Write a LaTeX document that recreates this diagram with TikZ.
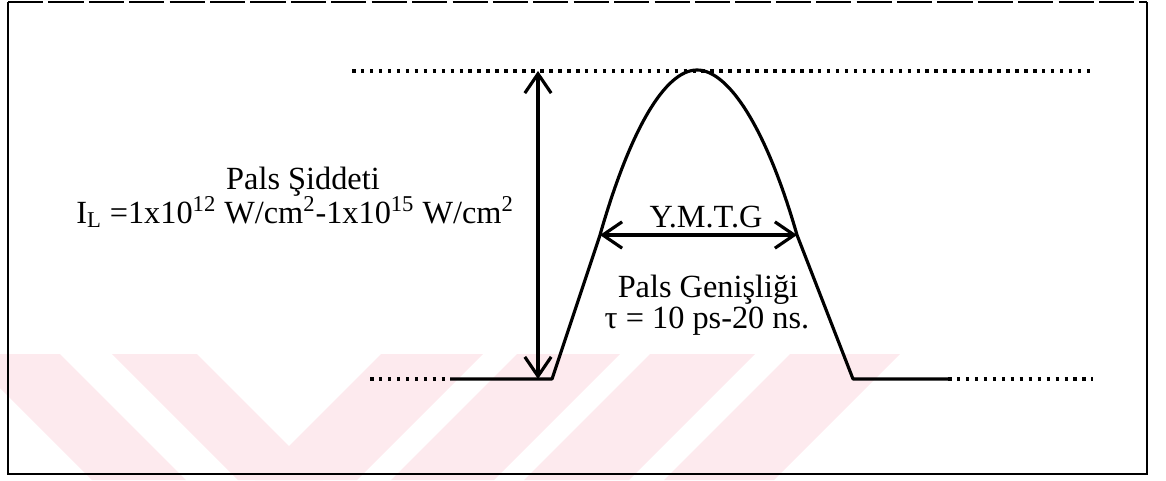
\documentclass[tikz,border=0pt]{standalone}
\usepackage{fontspec}
\setmainfont{Liberation Serif}
\usetikzlibrary{arrows.meta}

\begin{document}
\begin{tikzpicture}[x=0.02cm, y=-0.02cm,
        pulse/.style={line width=1.8pt, line join=round},
        dots/.style={line width=2pt, dash pattern=on 2pt off 3.1pt},
        measure/.style={line width=1.8pt, {Straight Barb[length=11pt,width=15pt]}-{Straight Barb[length=11pt,width=15pt]}},
        lbl/.style={inner sep=0pt, anchor=base, font=\fontsize{18.4}{22}\selectfont}]
        \definecolor{wmpink}{RGB}{253,234,238}

        \useasboundingbox (0,0) rectangle (1166,480);

        % Watermark
        \foreach \a/\b in {-34/60, 112/197}
            \fill[wmpink] (\a,354) -- (\b,354) -- (\b+126,480) -- (\a+126,480) -- cycle;
        \foreach \a/\b in {381/483, 517/620, 650/755, 790/900}
            \fill[wmpink] (\a,354) -- (\b,354) -- (\b-126,480) -- (\a-126,480) -- cycle;

        % Frame
        \draw[line width=1.4pt] (8,2) -- (8,474) -- (1147,474) -- (1147,2);
        \draw[line width=1.4pt, dash pattern=on 20pt off 3pt] (8,2) -- (1147,2);

        % Coordinates
        \coordinate (TL) at (352,71);
        \coordinate (TR) at (1093,71);
        \coordinate (BLd) at (370,379);
        \coordinate (BLs) at (450,379);
        \coordinate (FL) at (552,379);
        \coordinate (SL) at (600,235);
        \coordinate (PK) at (697,70);
        \coordinate (SR) at (797,235);
        \coordinate (FR) at (853,379);
        \coordinate (BRs) at (948,379);
        \coordinate (BRd) at (1093,379);
        \coordinate (VT) at (538,71);
        \coordinate (VB) at (538,379);

        % Drawing
        \draw[dots] (TL) -- (TR);
        \draw[dots] (BLd) -- (BLs);
        \draw[dots] (BRs) -- (BRd);
        \draw[pulse] (BLs) -- (FL) -- (SL) .. controls (630,130) and (665,70) .. (PK)
            .. controls (729,70) and (767,130) .. (SR) -- (FR) -- (BRs);
        \draw[measure] (VB) -- (VT);
        \draw[measure] (SL) -- (SR);

        \node[lbl] (sid) at (303,189) {Pals Şiddeti};
        \node[lbl] (il) at (295,223) {I\textsubscript{L} =1x10\textsuperscript{12} W/cm\textsuperscript{2}-1x10\textsuperscript{15} W/cm\textsuperscript{2}};
        \node[lbl] (ymtg) at (706,227) {Y.M.T.G};
        \node[lbl] (gen) at (708,297) {Pals Genişliği};
        \node[lbl] (tau) at (707,328) {τ = 10 ps-20 ns.};
    \end{tikzpicture}
\end{document}
